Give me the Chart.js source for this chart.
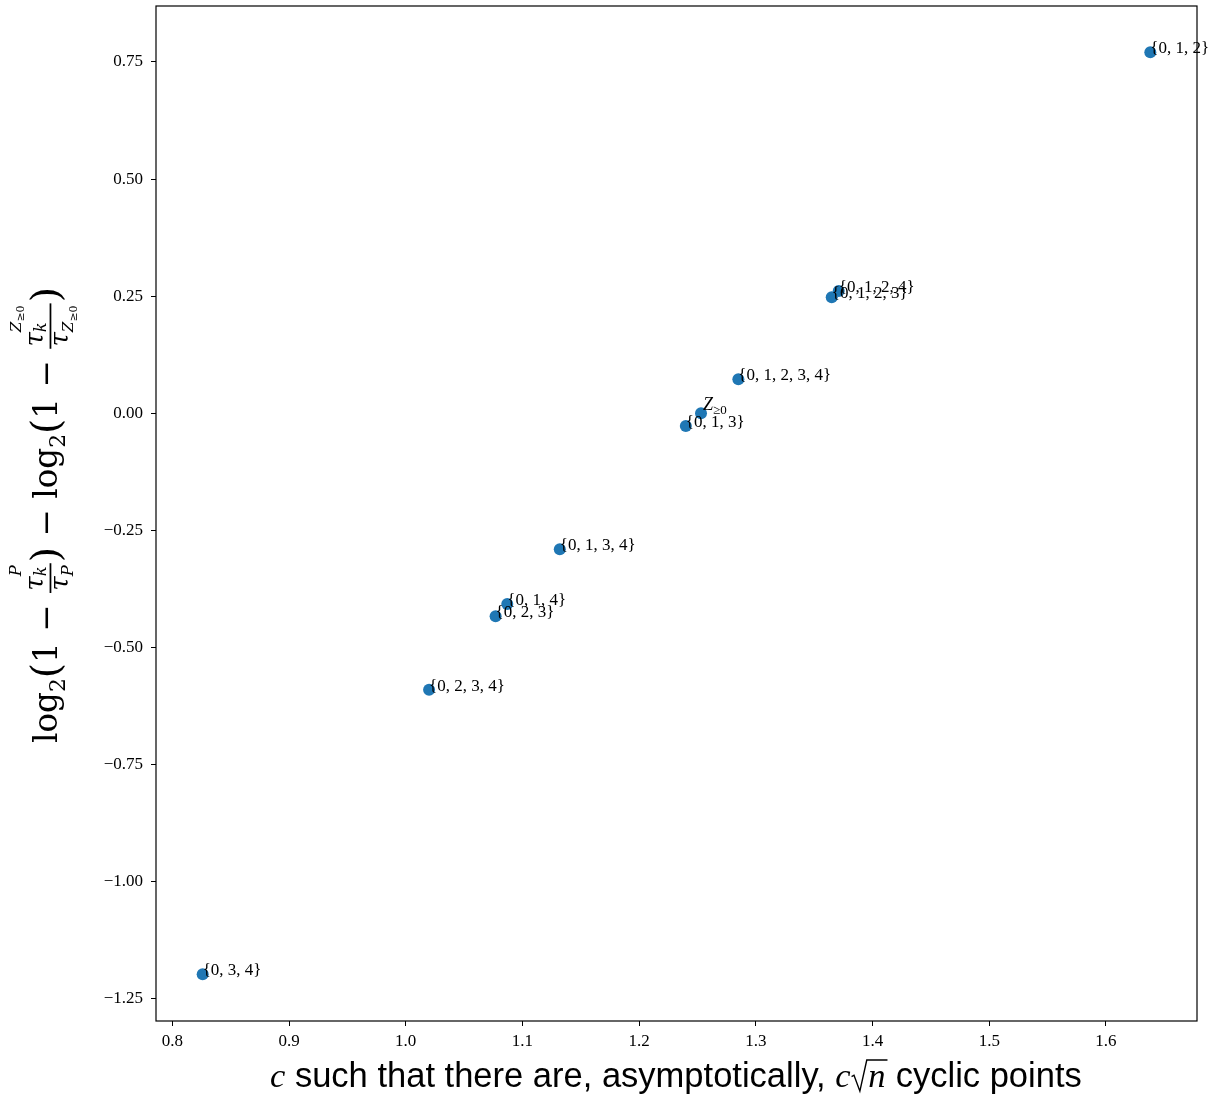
<!DOCTYPE html>
<html>
<head>
<meta charset="utf-8">
<script src="https://cdn.jsdelivr.net/npm/chart.js@4"></script>
<style>
  html, body { margin: 0; padding: 0; background: #fff; }
  canvas { display: block; }
</style>
</head>
<body>
<canvas id="myChart" width="1225" height="1102"></canvas>
<script>
// point labels (subsets) and values
const subsets = ['{0, 1, 2}', '{0, 1, 2, 4}', '{0, 1, 2, 3}', '{0, 1, 2, 3, 4}', 'Z>=0',
  '{0, 1, 3}', '{0, 1, 3, 4}', '{0, 1, 4}', '{0, 2, 3}', '{0, 2, 3, 4}', '{0, 3, 4}'];
const cValues = [1.638, 1.371, 1.365, 1.285, 1.253, 1.240, 1.132, 1.087, 1.077, 1.020, 0.826];
const logDiff = [0.771, 0.261, 0.248, 0.073, 0.0, -0.027, -0.290, -0.407, -0.433, -0.590, -1.197];
const xTicks = [0.8, 0.9, 1.0, 1.1, 1.2, 1.3, 1.4, 1.5, 1.6];
const yTicks = [-1.25, -1.00, -0.75, -0.50, -0.25, 0.00, 0.25, 0.50, 0.75];

const SERIF = "'Liberation Serif', serif";
const TSERIF = "'DejaVu Serif', serif";
const SANS = "'Liberation Sans', sans-serif";

function fmtTick(v, d) {
  return v.toFixed(d).replace('-', '\u2212');
}

// draws runs [{t, font, dy}] from x on baseline y, returns end x
// a run with back:true starts where the previous run started (sub/sup stacking)
function drawRuns(ctx, runs, x, y, measureOnly) {
  let prevStart = x, prevEnd = x;
  runs.forEach(r => {
    if (r.frac) {
      const wn = drawRuns(ctx, r.num, 0, 0, true);
      const wd = drawRuns(ctx, r.den, 0, 0, true);
      const w = Math.max(wn, wd) + 6;
      if (!measureOnly) {
        drawRuns(ctx, r.num, x + (w - wn) / 2, y + r.numY);
        drawRuns(ctx, r.den, x + (w - wd) / 2, y + r.denY);
        ctx.fillRect(x + 1, y + r.barY - 0.8, w - 2, 1.6);
      }
      prevStart = x;
      x += w;
      prevEnd = x;
      return;
    }
    ctx.font = r.font;
    const start = r.back ? prevStart : x;
    if (!measureOnly) ctx.fillText(r.t, start + (r.dx || 0), y + (r.dy || 0));
    const end = start + (r.dx || 0) + ctx.measureText(r.t).width;
    if (r.back) {
      x = Math.max(prevEnd, end);
    } else {
      prevStart = start;
      x = end;
    }
    prevEnd = end;
  });
  return x;
}

const annotate = {
  id: 'annotate',
  afterDatasetsDraw(chart) {
    const ctx = chart.ctx;
    const xs = chart.scales.x, ys = chart.scales.y;
    const area = chart.chartArea;
    ctx.save();
    ctx.fillStyle = '#000';
    ctx.textBaseline = 'alphabetic';
    ctx.textAlign = 'left';
    subsets.forEach((lab, i) => {
      const px = xs.getPixelForValue(cValues[i]);
      const py = ys.getPixelForValue(logDiff[i]);
      if (lab === 'Z>=0') {
        drawRuns(ctx, [
          { t: 'Z', font: 'italic 18px ' + SERIF, dy: -3 },
          { t: '\u22650', font: '13px ' + SERIF, dy: 1 }
        ], px + 2, py);
      } else {
        ctx.font = '17px ' + SERIF;
        ctx.fillText(lab, px, py + 1);
      }
    });

    // frame
    ctx.strokeStyle = '#000';
    ctx.lineWidth = 1.2;
    ctx.strokeRect(area.left, area.top, area.right - area.left, area.bottom - area.top);

    // x title
    const xs0 = 30;
    const xRuns = s => [
      { t: 'c', font: 'italic ' + s + 'px ' + SERIF },
      { t: ' such that there are, asymptotically, ', font: s + 'px ' + SANS }
    ];
    const tail = s => [{ t: ' cyclic points', font: s + 'px ' + SANS }];
    ctx.font = 'italic ' + xs0 + 'px ' + SERIF;
    const wN = ctx.measureText('n').width;
    const total = drawRuns(ctx, xRuns(xs0), 0, 0, true) + ctx.measureText('c').width +
      0.5 * xs0 + wN + drawRuns(ctx, tail(xs0), 0, 0, true);
    const s = xs0 * 813 / total;
    const cx = (area.left + area.right) / 2;
    let x = cx - 813 / 2;
    const by = 1087;
    x = drawRuns(ctx, xRuns(s), x, by);
    ctx.font = 'italic ' + s + 'px ' + SERIF;
    ctx.fillText('c', x, by);
    x += ctx.measureText('c').width + 1;
    const wn = ctx.measureText('n').width;
    ctx.beginPath();
    ctx.lineWidth = 1.4;
    ctx.moveTo(x, by - 0.30 * s);
    ctx.lineTo(x + 0.07 * s, by - 0.34 * s);
    ctx.lineTo(x + 0.24 * s, by + 0.12 * s);
    ctx.lineTo(x + 0.44 * s, by - 0.78 * s);
    ctx.lineTo(x + 0.5 * s + wn + 0.04 * s, by - 0.78 * s);
    ctx.stroke();
    ctx.fillText('n', x + 0.48 * s, by);
    x += 0.5 * s + wn;
    drawRuns(ctx, tail(s), x, by);

    // y title, rotated, fitted to the reference length
    const F = n => n + 'px ' + TSERIF;
    const I = n => 'italic ' + n + 'px ' + TSERIF;
    const fr1 = {
      frac: true, barY: -6, numY: -13, denY: 10,
      num: [{ t: '\u03c4', font: I(24) }, { t: 'k', font: I(15), dy: 3 },
            { t: 'P', font: I(15), dy: -20, back: true }],
      den: [{ t: '\u03c4', font: I(24) }, { t: 'P', font: I(15), dy: 5 }]
    };
    const fr2 = {
      frac: true, barY: -6, numY: -13, denY: 10,
      num: [{ t: '\u03c4', font: I(24) }, { t: 'k', font: I(15), dy: 3 },
            { t: 'Z', font: I(14), dy: -20, back: true }, { t: '\u22650', font: F(10), dy: -17 }],
      den: [{ t: '\u03c4', font: I(24) }, { t: 'Z', font: I(14), dy: 5 }, { t: '\u22650', font: F(10), dy: 8 }]
    };
    const yRuns = [
      { t: 'log', font: F(30) }, { t: '2', font: F(20), dy: 7 }, { t: '(', font: F(36), dy: 2 },
      { t: '1 \u2212 ', font: F(30) }, fr1, { t: ')', font: F(36), dy: 2 },
      { t: ' \u2212 log', font: F(30) }, { t: '2', font: F(20), dy: 7 }, { t: '(', font: F(36), dy: 2 },
      { t: '1 \u2212 ', font: F(30) }, fr2, { t: ')', font: F(36), dy: 2 }
    ];
    const wy = drawRuns(ctx, yRuns, 0, 0, true);
    const k = 456 / wy;
    ctx.translate(57, 515);
    ctx.rotate(-Math.PI / 2);
    ctx.scale(k, k);
    drawRuns(ctx, yRuns, -wy / 2, 0);
    ctx.restore();
  }
};

const ctx = document.getElementById('myChart');

new Chart(ctx, {
  type: 'scatter',
  data: {
    datasets: [{
      data: cValues.map((c, i) => ({ x: c, y: logDiff[i] })),
      backgroundColor: '#1f77b4',
      borderWidth: 0,
      pointRadius: 6,
      pointHoverRadius: 6
    }]
  },
  options: {
    responsive: false,
    animation: false,
    devicePixelRatio: 1,
    layout: { padding: { top: 6, right: 28, bottom: 0, left: 0 } },
    plugins: {
      legend: { display: false },
      tooltip: { enabled: false }
    },
    scales: {
      x: {
        type: 'linear',
        min: 0.786,
        max: 1.678,
        afterBuildTicks: scale => { scale.ticks = xTicks.map(v => ({ value: v })); },
        afterFit: scale => { scale.height = 81; scale.paddingLeft = 0; scale.paddingRight = 0; },
        ticks: {
          autoSkip: false,
          maxRotation: 0,
          padding: 5,
          color: '#000',
          font: { family: SERIF, size: 17 },
          callback: v => fmtTick(v, 1)
        },
        grid: { drawOnChartArea: false, drawTicks: true, tickLength: 5, tickColor: '#000', tickWidth: 1 },
        border: { display: false }
      },
      y: {
        type: 'linear',
        min: -1.297,
        max: 0.8695,
        afterBuildTicks: scale => { scale.ticks = yTicks.map(v => ({ value: v })); },
        afterFit: scale => { scale.width = 156; scale.paddingTop = 0; scale.paddingBottom = 0; },
        ticks: {
          autoSkip: false,
          padding: 8,
          color: '#000',
          font: { family: SERIF, size: 17 },
          callback: v => fmtTick(v, 2)
        },
        grid: { drawOnChartArea: false, drawTicks: true, tickLength: 5, tickColor: '#000', tickWidth: 1 },
        border: { display: false }
      }
    }
  },
  plugins: [annotate]
});
</script>
</body>
</html>
